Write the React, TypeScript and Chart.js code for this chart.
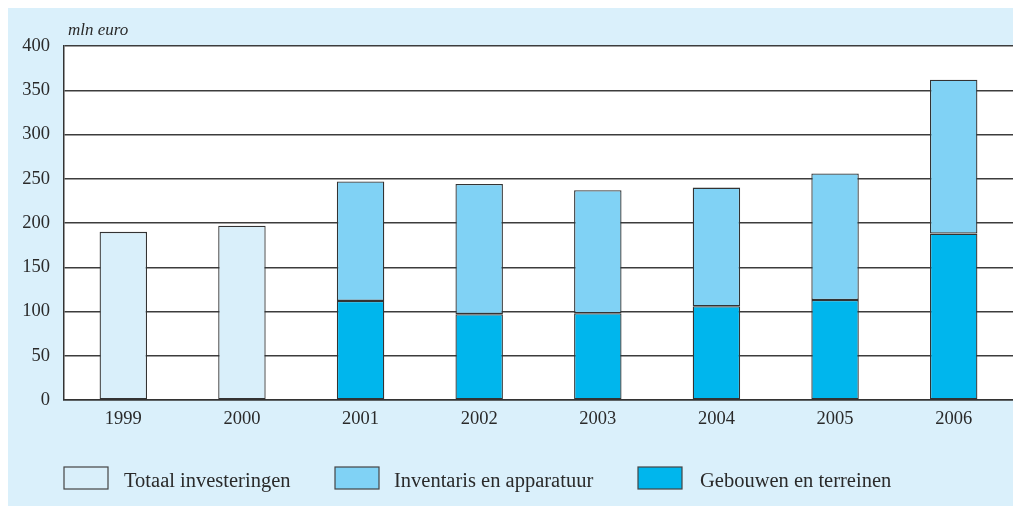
import React, { useEffect, useRef } from "react";
import { Chart, registerables } from "chart.js";

Chart.register(...registerables);

const years = ["1999", "2000", "2001", "2002", "2003", "2004", "2005", "2006"];
const totaalInvesteringen = [190, 197, null, null, null, null, null, null];
const gebouwenEnTerreinen = [null, null, 112, 97, 98, 106, 113, 188];
const inventarisEnApparatuur = [null, null, 135, 147, 139, 134, 143, 174];
const yTicks = [0, 50, 100, 150, 200, 250, 300, 350, 400];
const unitLabel = "mln euro";

const FONT = '"Liberation Serif", "DejaVu Serif", serif';
const TEXT = "#2a2a2a";
const PANEL = "#daf0fb";
const C_TOTAAL = "#d9effa";
const C_INV = "#80d2f5";
const C_GEB = "#00b6ed";

const legendPlugin = {
  id: "customLegend",
  afterDraw(chart: any) {
    const { ctx, chartArea } = chart;
    const items = [
      { label: "Totaal investeringen", color: C_TOTAAL, box: 0, text: 60 },
      { label: "Inventaris en apparatuur", color: C_INV, box: 271, text: 330 },
      { label: "Gebouwen en terreinen", color: C_GEB, box: 574, text: 636 },
    ];
    ctx.save();
    const y = chartArea.bottom + 67;
    items.forEach((it) => {
      const x = chartArea.left + it.box;
      ctx.fillStyle = it.color;
      ctx.fillRect(x, y, 44, 22);
      ctx.strokeStyle = "#444";
      ctx.lineWidth = 1.2;
      ctx.strokeRect(x, y, 44, 22);
      ctx.fillStyle = TEXT;
      ctx.font = `20.5px ${FONT}`;
      ctx.textBaseline = "middle";
      ctx.textAlign = "left";
      ctx.fillText(it.label, chartArea.left + it.text, y + 15);
    });
    ctx.font = `italic 17px ${FONT}`;
    ctx.textBaseline = "alphabetic";
    ctx.fillStyle = TEXT;
    ctx.fillText(unitLabel, chartArea.left + 4, chartArea.top - 11);
    ctx.restore();
  },
};

const bgPlugin = {
  id: "plotBg",
  beforeDraw(chart: any) {
    const { ctx, chartArea } = chart;
    ctx.save();
    ctx.fillStyle = "#ffffff";
    ctx.fillRect(chartArea.left, chartArea.top, chartArea.right - chartArea.left, chartArea.bottom - chartArea.top);
    ctx.restore();
  },
};

export default function App() {
  const ref = useRef<HTMLCanvasElement>(null);
  useEffect(() => {
    if (!ref.current) return;
    const barCommon = {
      borderColor: "#333",
      borderWidth: 1.3,
      borderSkipped: false as const,
      categoryPercentage: 1,
      barPercentage: 0.4,
    };
    const chart = new Chart(ref.current, {
      type: "bar",
      data: {
        labels: years,
        datasets: [
          { label: "Totaal investeringen", data: totaalInvesteringen, backgroundColor: C_TOTAAL, ...barCommon },
          { label: "Gebouwen en terreinen", data: gebouwenEnTerreinen, backgroundColor: C_GEB, ...barCommon },
          { label: "Inventaris en apparatuur", data: inventarisEnApparatuur, backgroundColor: C_INV, ...barCommon },
        ],
      },
      options: {
        animation: false,
        responsive: true,
        maintainAspectRatio: false,
        layout: { padding: { top: 38, left: 0, right: 0, bottom: 0 } },
        plugins: { legend: { display: false }, tooltip: { enabled: false }, title: { display: false } },
        scales: {
          x: {
            stacked: true,
            grid: { display: false, drawTicks: false },
            border: { display: true, color: "#333", width: 1.5 },
            ticks: { color: TEXT, font: { family: FONT, size: 18.5 }, padding: 8 },
            afterFit(scale: any) {
              scale.height = 106;
            },
          },
          y: {
            stacked: true,
            min: 0,
            max: 400,
            afterBuildTicks(scale: any) {
              scale.ticks = yTicks.map((v) => ({ value: v }));
            },
            grid: { color: "#3c3c3c", lineWidth: 1.4, drawTicks: false },
            border: { display: true, color: "#333", width: 1.5 },
            ticks: { color: TEXT, font: { family: FONT, size: 18.5 }, padding: 14 },
            afterFit(scale: any) {
              scale.width = 56;
            },
          },
        },
      },
      plugins: [bgPlugin, legendPlugin],
    });
    return () => chart.destroy();
  }, []);
  return (
    <div style={{ position: "fixed", left: 8, top: 8, right: 0, bottom: 0, background: PANEL, overflow: "hidden" }}>
      <canvas ref={ref} style={{ display: "block" }} />
    </div>
  );
}
